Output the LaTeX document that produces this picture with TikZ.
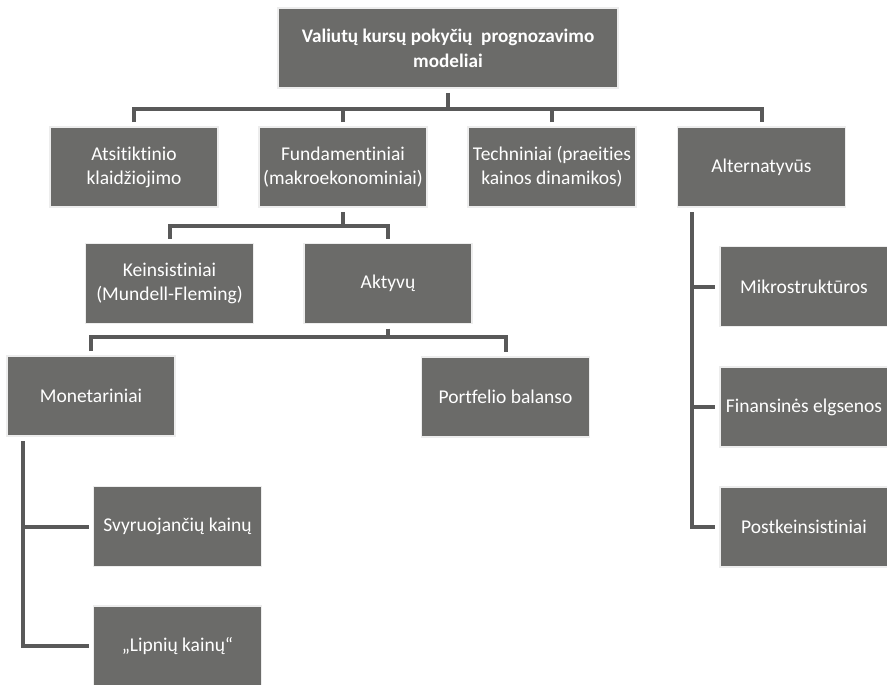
\documentclass[tikz,border=0pt]{standalone}
\usepackage{fontspec}
\setmainfont[Ligatures={NoCommon}]{Carlito}
\usetikzlibrary{calc}
\definecolor{boxgray}{RGB}{107,107,105}
\definecolor{linegray}{RGB}{89,89,89}
\begin{document}
\begin{tikzpicture}[x=1pt,y=-1pt,
  box/.style={rectangle, fill=boxgray, draw=black!7, line width=1.5pt,
    text=white, minimum width=168pt, minimum height=80pt, inner sep=2pt,
    outer sep=5pt, align=center, font=\fontsize{19.5}{24}\selectfont},
  conn/.style={draw=linegray, line width=4pt}]
\useasboundingbox (0,0) rectangle (887,685);
\fill[white] (0,0) rectangle (887,685);

% root
\node[box, minimum width=340pt, font=\bfseries\fontsize{19.2}{25}\selectfont] (root) at (448,48)
  {Valiutų kursų pokyčių~ prognozavimo\\modeliai};

% first level
\node[box] (atsit) at (134,167) {Atsitiktinio\\klaidžiojimo};
\node[box] (fund)  at (343,167) {Fundamentiniai\\(makroekonominiai)};
\node[box] (tech)  at (552,167) {Techniniai (praeities\\kainos dinamikos)};
\node[box] (alt)   at (761.5,167) {Alternatyvūs};

% fundamental models
\node[box] (keins) at (169.5,283.5) {Keinsistiniai\\(Mundell-Fleming)};
\node[box] (akt)   at (388,283.5) {Aktyvų};

% asset models
\node[box] (monet) at (91,396) {Monetariniai};
\node[box] (portf) at (505.5,397) {Portfelio balanso};

% monetary models
\node[box] (svyr) at (177.5,526.5) {Svyruojančių kainų};
\node[box] (lipn) at (177.5,646) {„Lipnių kainų“};

% alternative models
\node[box] (mikro)  at (804,286.5) {Mikrostruktūros};
\node[box] (finans) at (804,407)   {Finansinės elgsenos};
\node[box] (postk)  at (804,527)   {Postkeinsistiniai};

% connectors: root to first level
\draw[conn] (root.south) -- ++(0,16) coordinate (b0);
\draw[conn] (atsit.north) -- (atsit.north |- b0) -- (alt.north |- b0) -- (alt.north);
\draw[conn] (fund.north) -- (fund.north |- b0);
\draw[conn] (tech.north) -- (tech.north |- b0);

% fundamental branch
\draw[conn] (fund.south) -- ++(0,14) coordinate (b1);
\draw[conn] (keins.north) -- (keins.north |- b1) -- (akt.north |- b1) -- (akt.north);

% asset branch
\draw[conn] (akt.south) -- ++(0,8) coordinate (b2);
\draw[conn] (monet.north) -- (monet.north |- b2) -- (portf.north |- b2) -- (portf.north);

% monetary spine
\coordinate (mspine) at (23,441);
\draw[conn] (mspine) |- (lipn.west);
\draw[conn] (mspine |- svyr.west) -- (svyr.west);

% alternative spine
\coordinate (aspine) at (692,212);
\draw[conn] (aspine) |- (postk.west);
\draw[conn] (aspine |- mikro.west) -- (mikro.west);
\draw[conn] (aspine |- finans.west) -- (finans.west);
\end{tikzpicture}
\end{document}
